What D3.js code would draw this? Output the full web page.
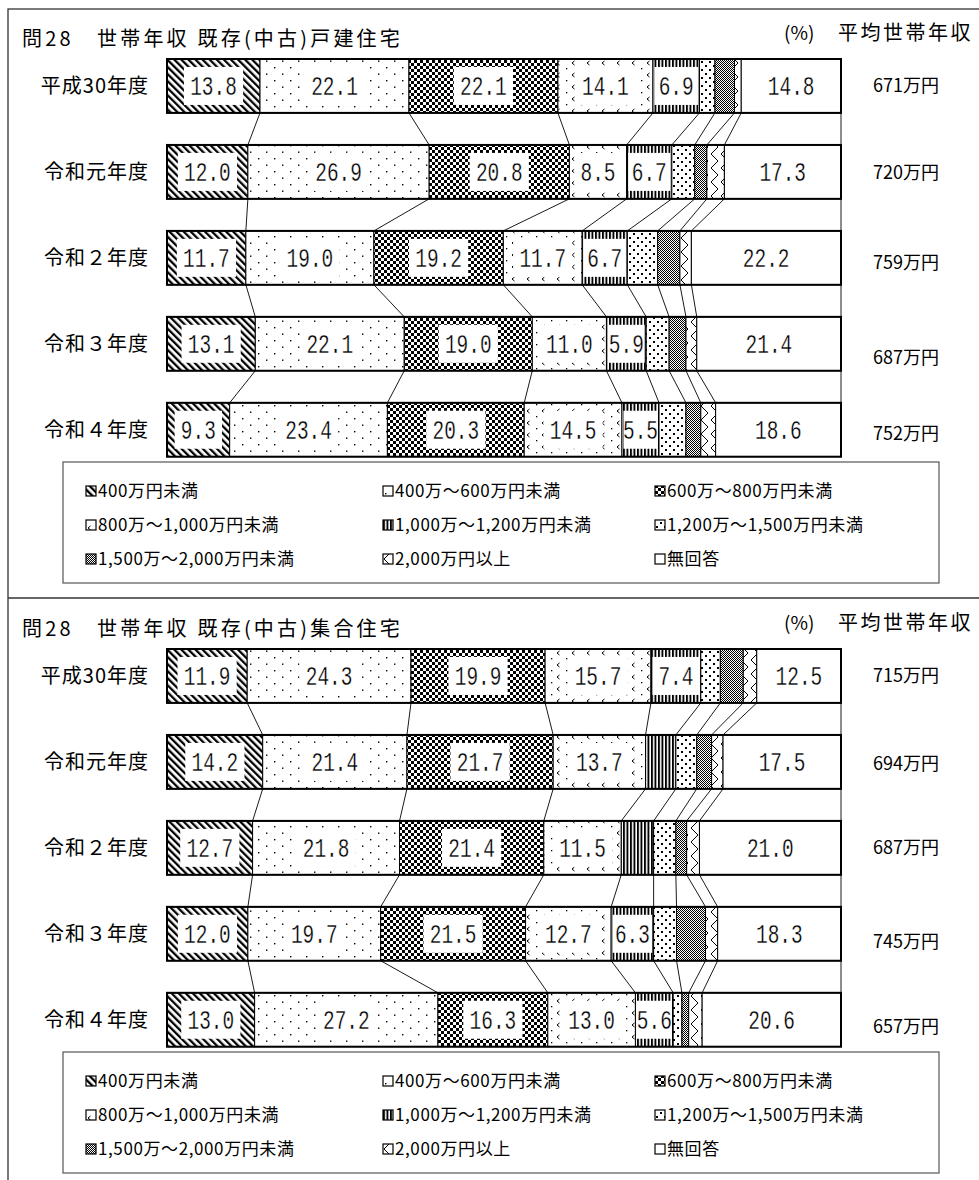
<!DOCTYPE html>
<html>
<head>
<meta charset="utf-8">
<script src="https://cdn.jsdelivr.net/npm/d3@7"></script>
<style>
    body { margin: 0; background: #fff; }
    text { font-family: "Noto Sans CJK JP", sans-serif; fill: #000; }
</style>
</head>
<body>
<div id="chart"></div>
<script>

// ---- data ----
const years = ["平成30年度", "令和元年度", "令和２年度", "令和３年度", "令和４年度"];

const categories = [
    "400万円未満", "400万～600万円未満", "600万～800万円未満",
    "800万～1,000万円未満", "1,000万～1,200万円未満", "1,200万～1,500万円未満",
    "1,500万～2,000万円未満", "2,000万円以上", "無回答"
];

const detachedTitle = "問28　世帯年収 既存(中古)戸建住宅";
const detachedValues = [
    [13.8, 22.1, 22.1, 14.1, 6.9, 2.3, 2.9, 1.0, 14.8],
    [12.0, 26.9, 20.8, 8.5, 6.7, 3.4, 1.8, 2.6, 17.3],
    [11.7, 19.0, 19.2, 11.7, 6.7, 4.5, 3.3, 1.7, 22.2],
    [13.1, 22.1, 19.0, 11.0, 5.9, 3.4, 2.5, 1.6, 21.4],
    [9.3, 23.4, 20.3, 14.5, 5.5, 4.0, 2.2, 2.2, 18.6]
];
const detachedIncome = ["671万円", "720万円", "759万円", "687万円", "752万円"];

const condoTitle = "問28　世帯年収 既存(中古)集合住宅";
const condoValues = [
    [11.9, 24.3, 19.9, 15.7, 7.4, 2.9, 3.4, 2.0, 12.5],
    [14.2, 21.4, 21.7, 13.7, 4.5, 3.1, 2.2, 1.7, 17.5],
    [12.7, 21.8, 21.4, 11.5, 4.8, 3.3, 1.6, 1.9, 21.0],
    [12.0, 19.7, 21.5, 12.7, 6.3, 3.4, 4.3, 1.8, 18.3],
    [13.0, 27.2, 16.3, 13.0, 5.6, 1.3, 1.0, 2.0, 20.6]
];
const condoIncome = ["715万円", "694万円", "687万円", "745万円", "657万円"];

// ---- layout ----
const W = 979, H = 1180;
const barLeft = 167, barRight = 841;
const panelShift = 590;

let svg = d3.select('#chart')
    .append('svg')
    .attr('width', W)
    .attr('height', H);

let defs = svg.append('defs');

// monochrome fill patterns, one per category
function addPattern(id, w, h, draw, transform) {
    let p = defs.append('pattern')
        .attr('id', id)
        .attr('patternUnits', 'userSpaceOnUse')
        .attr('width', w)
        .attr('height', h);
    if (transform) p.attr('patternTransform', transform);
    p.append('rect').attr('width', w).attr('height', h).attr('fill', '#fff');
    draw(p);
}

function sq(p, x, y, s) {
    p.append('rect').attr('x', x).attr('y', y).attr('width', s).attr('height', s).attr('fill', '#000');
}

addPattern('p0', 5, 5, p => p.append('rect').attr('width', 2.3).attr('height', 5).attr('fill', '#000'), 'rotate(-45)');
addPattern('p1', 16, 13, p => { sq(p, 2, 2, 1.4); sq(p, 10, 8.5, 1.4); });
addPattern('p2', 6, 6, p => { sq(p, 0, 0, 3); sq(p, 3, 3, 3); });
addPattern('p3', 15, 12, p => {
    p.append('path').attr('d', 'M4.5,1 L2,3 L4.5,5').attr('fill', 'none').attr('stroke', '#000').attr('stroke-width', 1);
    sq(p, 11, 8, 1.3);
});
addPattern('p4', 3.5, 4, p => p.append('rect').attr('width', 1.9).attr('height', 4).attr('fill', '#000'));
addPattern('p5', 8, 8, p => { sq(p, 1, 1, 2); sq(p, 5, 5, 2); });
addPattern('p6', 2, 2, p => { sq(p, 0, 0, 1); sq(p, 1, 1, 1); });
addPattern('p7', 10, 14, p => p.append('path').attr('d', 'M1,0 L8,7 L1,14').attr('fill', 'none').attr('stroke', '#000').attr('stroke-width', 1));
addPattern('p8', 4, 4, p => {});

// outer frame and divider
svg.append('rect')
    .attr('x', 8).attr('y', 9)
    .attr('width', 1000).attr('height', 1200)
    .attr('fill', 'none').attr('stroke', '#333').attr('stroke-width', 1.3);
svg.append('line')
    .attr('x1', 8).attr('x2', W).attr('y1', 598).attr('y2', 598)
    .attr('stroke', '#333').attr('stroke-width', 1.3);

function drawPanel(dy, title, values, incomes, incomeShift) {
    let g = svg.append('g').attr('transform', 'translate(0,' + dy + ')');

    let x = d3.scaleLinear().domain([0, 100]).range([barLeft, barRight]);
    let y = d3.scaleBand().domain(years).range([59, 456.7]).paddingInner(0.373).paddingOuter(0);

    // titles
    g.append('text').attr('x', 22).attr('y', 46)
        .style('font-size', '20px').style('letter-spacing', '3.2px')
        .text(title);
    g.append('text').attr('x', 784).attr('y', 40)
        .style('font-size', '19px')
        .text('(%)');
    g.append('text').attr('x', 838).attr('y', 40)
        .style('font-size', '20px').style('letter-spacing', '2.5px')
        .text('平均世帯年収');

    // cumulative positions per row, normalised to the row total
    let cums = values.map(row => {
        let total = d3.sum(row);
        let c = [0];
        row.forEach(v => c.push(c[c.length - 1] + v * 100 / total));
        return c;
    });

    // connector lines between consecutive bars
    for (let r = 0; r < years.length - 1; r++) {
        for (let k = 1; k <= categories.length; k++) {
            g.append('line')
                .attr('x1', x(cums[r][k])).attr('y1', y(years[r]) + y.bandwidth())
                .attr('x2', x(cums[r + 1][k])).attr('y2', y(years[r + 1]))
                .attr('stroke', '#000').attr('stroke-width', 0.9);
        }
    }

    years.forEach((yr, r) => {
        let top = y(yr);
        let bh = y.bandwidth();
        let cy = top + bh / 2;

        let segs = values[r].map((v, i) => ({ v: v, i: i, x0: x(cums[r][i]), x1: x(cums[r][i + 1]) }));

        g.append('g').selectAll('rect')
            .data(segs)
            .enter()
            .append('rect')
            .attr('x', d => d.x0)
            .attr('y', top)
            .attr('width', d => d.x1 - d.x0)
            .attr('height', bh)
            .attr('fill', d => 'url(#p' + d.i + ')')
            .attr('stroke', '#000')
            .attr('stroke-width', 1);

        g.append('rect')
            .attr('x', barLeft).attr('y', top)
            .attr('width', barRight - barLeft).attr('height', bh)
            .attr('fill', 'none').attr('stroke', '#000').attr('stroke-width', 2);

        // value labels with a white box behind them
        let labelled = segs.filter(d => d.v >= 5);
        labelled.forEach(d => {
            let txt = d.v.toFixed(1);
            let cx = (d.x0 + d.x1) / 2;
            let bw = Math.min(txt.length * 11.8 + 12, d.x1 - d.x0 - 3);
            g.append('rect')
                .attr('x', cx - bw / 2).attr('y', cy - 19)
                .attr('width', bw).attr('height', 38)
                .attr('fill', '#fff');
            g.append('text')
                .attr('transform', 'translate(' + cx + ',' + (cy + 9) + ') scale(0.72,1)')
                .attr('text-anchor', 'middle')
                .style('font-family', '"Liberation Mono", "DejaVu Sans Mono", monospace')
                .style('font-size', '27px')
                .style('stroke', '#fff')
                .style('stroke-width', '0.3px')
                .text(txt);
        });

        // year label
        g.append('text')
            .attr('x', 149).attr('y', cy + 7)
            .attr('text-anchor', 'end')
            .style('font-size', '20px').style('letter-spacing', '1px')
            .text(yr);

        // average income
        g.append('text')
            .attr('x', 873).attr('y', cy + 6 + incomeShift[r])
            .style('font-size', '18px')
            .text(incomes[r]);
    });

    // legend
    let lg = g.append('g');
    lg.append('rect')
        .attr('x', 63).attr('y', 462)
        .attr('width', 876).attr('height', 121)
        .attr('fill', '#fff').attr('stroke', '#555').attr('stroke-width', 1.2);

    let colX = [86, 383, 655];
    let rowY = [491, 525, 559];
    let items = lg.selectAll('.legend_item')
        .data(categories)
        .enter()
        .append('g')
        .attr('transform', (d, i) => 'translate(' + colX[i % 3] + ',' + rowY[Math.floor(i / 3)] + ')');
    items.append('rect')
        .attr('x', 0).attr('y', -5)
        .attr('width', 10).attr('height', 10)
        .attr('fill', (d, i) => 'url(#p' + i + ')')
        .attr('stroke', '#000').attr('stroke-width', 1.2);
    items.append('text')
        .attr('x', 12).attr('y', 6)
        .style('font-size', '17px').style('letter-spacing', '0.6px')
        .text(d => d);
}

drawPanel(0, detachedTitle, detachedValues, detachedIncome, [0, 1, 5, 14, 4]);
drawPanel(panelShift, condoTitle, condoValues, condoIncome, [0, 2, 0, 8, 7]);

</script>
</body>
</html>
